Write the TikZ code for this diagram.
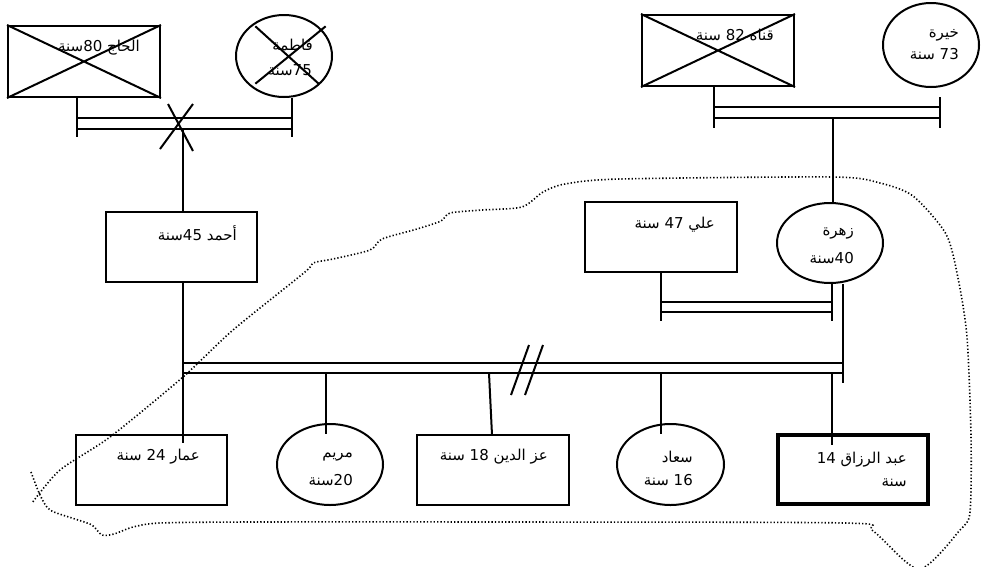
\documentclass[tikz,border=0pt]{standalone}
\usepackage{fontspec}
\usetikzlibrary{shapes.geometric}
\newfontfamily\arabicfont[Script=Arabic]{DejaVu Sans}
\TeXXeTstate=1
\newcommand\artext[1]{{\arabicfont\beginR #1\endR}}

\begin{document}
\begin{tikzpicture}[x=1pt,y=-1pt,
  ln/.style={line width=2pt},
  male/.style={draw, rectangle, line width=2pt, inner sep=0pt, minimum width=152pt, minimum height=71pt},
  female/.style={draw, ellipse, line width=2pt, inner sep=0pt},
  lbl/.style={anchor=east, inner sep=0pt, font=\fontsize{15}{17}\selectfont},
  fence/.style={line width=1.6pt, dash pattern=on 1.3pt off 2.1pt}]
\useasboundingbox (0,0) rectangle (982,566);
\clip (0,0) rectangle (982,566);

% ---- grandparents (father's side)
\node[male] (hajj) at (84,61.5) {};
\node[female, minimum width=96pt, minimum height=82pt] (fatima) at (284,56) {};
\draw[ln] (hajj.north west) -- (hajj.south east) (hajj.north east) -- (hajj.south west);
\draw[ln] ([xshift=6pt]fatima.north west) -- ([yshift=2pt]fatima.south east)
          ([xshift=7pt]fatima.north east) -- ([xshift=6pt,yshift=2pt]fatima.south west);
\node[lbl] (thajj) at (140,48) {\artext{الحاج \hbox{80}سنة}};
\node[lbl] (tfat1) at (313,45) {\artext{فاطمة}};
\node[lbl] (tfat2) at (312,70) {\artext{\hbox{75}سنة}};

% marriage bar with divorce mark
\coordinate (hL) at (77,137);
\coordinate (fR) at (292,137);
\coordinate (b1a) at (77,118);  \coordinate (b1b) at (292,118);
\coordinate (b1c) at (77,129);  \coordinate (b1d) at (292,129);
\draw[ln] (hajj.south -| hL) -- (hL);
\draw[ln] (fatima.south -| fR) -- (fR);
\draw[ln] (b1a) -- (b1b) (b1c) -- (b1d);
\coordinate (x1) at (168,104); \coordinate (x2) at (193,151);
\coordinate (x3) at (193,104); \coordinate (x4) at (160,149);
\draw[ln] (x1) -- (x2) (x3) -- (x4);

% ---- grandparents (mother's side)
\node[male] (qanah) at (718,50.5) {};
\node[female, minimum width=96pt, minimum height=84pt] (khayra) at (931,45) {};
\draw[ln] (qanah.north west) -- (qanah.south east) (qanah.north east) -- (qanah.south west);
\node[lbl] (tqan) at (774,35) {\artext{قناه \hbox{82} سنة}};
\node[lbl] (tkh1) at (959,35) {\artext{خيرة}};
\node[lbl] (tkh2) at (959,54) {\artext{\hbox{73} سنة}};
\coordinate (qL) at (714,128);
\coordinate (kR1) at (940,97); \coordinate (kR2) at (940,128);
\coordinate (b2a) at (714,107); \coordinate (b2b) at (940,107);
\coordinate (b2c) at (714,118); \coordinate (b2d) at (940,118);
\draw[ln] (qanah.south -| qL) -- (qL);
\draw[ln] (kR1) -- (kR2);
\draw[ln] (b2a) -- (b2b) (b2c) -- (b2d);

% ---- parents
\node[male, minimum width=151pt, minimum height=70pt] (ahmed) at (181.5,247) {};
\node[lbl] (tahm) at (237,233) {\artext{أحمد \hbox{45}سنة}};
\node[male, minimum width=152pt, minimum height=70pt] (ali) at (661,237) {};
\node[lbl] (tali) at (715,225) {\artext{علي \hbox{47} سنة}};
\node[female, minimum width=106pt, minimum height=80pt] (zahra) at (830,243) {};
\node[lbl] (tzah1) at (854,233) {\artext{زهرة}};
\node[lbl] (tzah2) at (854,258) {\artext{\hbox{40}سنة}};

\coordinate (aV) at (183,129);
\coordinate (zV) at (833,118);
\draw[ln] (aV) -- (ahmed.north -| aV);
\draw[ln] (zV) -- (zahra.north -| zV);

% second marriage of the mother
\coordinate (alL) at (661,321); \coordinate (zaR) at (832,321);
\coordinate (b3a) at (661,302); \coordinate (b3b) at (832,302);
\coordinate (b3c) at (661,312); \coordinate (b3d) at (832,312);
\draw[ln] (ali.south -| alL) -- (alL);
\draw[ln] (zahra.south -| zaR) -- (zaR);
\draw[ln] (b3a) -- (b3b) (b3c) -- (b3d);

% ---- children
\node[male, minimum width=151pt, minimum height=70pt] (ammar) at (151.5,470) {};
\node[female, minimum width=106pt, minimum height=81pt] (maryam) at (330,464.5) {};
\node[male, minimum width=152pt, minimum height=70pt] (izz) at (493,470) {};
\node[female, minimum width=107pt, minimum height=81pt] (suad) at (670.5,464.5) {};
\node[male, minimum width=150pt, minimum height=69pt, line width=4.8pt] (abdu) at (853,469.5) {};

\node[lbl] (tamm) at (200,457) {\artext{عمار \hbox{24} سنة}};
\node[lbl] (tmar1) at (353,457) {\artext{مريم}};
\node[lbl] (tmar2) at (353,480) {\artext{\hbox{20}سنة}};
\node[lbl] (tizz) at (548,457) {\artext{عز الدين \hbox{18} سنة}};
\node[lbl] (tsu1) at (693,457) {\artext{سعاد}};
\node[lbl] (tsu2) at (693,480) {\artext{\hbox{16} سنة}};
\node[lbl] (tab1) at (907,460) {\artext{عبد الرزاق \hbox{14}}};
\node[lbl] (tab2) at (907,483) {\artext{سنة}};

% sibship bar
\coordinate (s1a) at (183,363); \coordinate (s1b) at (843,363);
\coordinate (s1c) at (183,373); \coordinate (s1d) at (843,373);
\coordinate (zR) at (843,383);
\draw[ln] (s1a) -- (s1b) (s1c) -- (s1d);
\draw[ln] (ahmed.south -| aV) -- (183,443);
\draw[ln] (zahra.south -| zR) -- (zR);

\coordinate (cM) at (326,373); \coordinate (cI) at (489,373);
\coordinate (cS) at (661,373); \coordinate (cA) at (832,373);
\draw[ln] (cM) -- (326,434);
\draw[ln] (cI) -- (492,435);
\draw[ln] (cS) -- (661,434);
\draw[ln] (cA) -- (832,445);

% separation mark on the bar
\coordinate (p1) at (529,345); \coordinate (p2) at (511,395);
\coordinate (p3) at (543,345); \coordinate (p4) at (525,395);
\draw[ln] (p1) -- (p2) (p3) -- (p4);

% household boundary
\draw[fence] plot[smooth, tension=0.45] coordinates {
  (31,472) (40,495) (50,510) (75,519) (92,525) (102,535) (114,534) (133,527)
  (160,523) (250,522) (500,522) (845,523) (873,531) (919,569)
  (960,530) (970,512) (971,437) (967,337) (958,278) (946,234) (913,196)
  (880,183) (833,177) (620,179) (565,184) (543,192) (522,207) (482,210)
  (450,213) (441,221) (417,229) (382,239) (370,250) (333,259) (313,263)
  (305,272) (233,330) (183,377) (110,437) (60,470) (32,503)};
\end{tikzpicture}
\end{document}
